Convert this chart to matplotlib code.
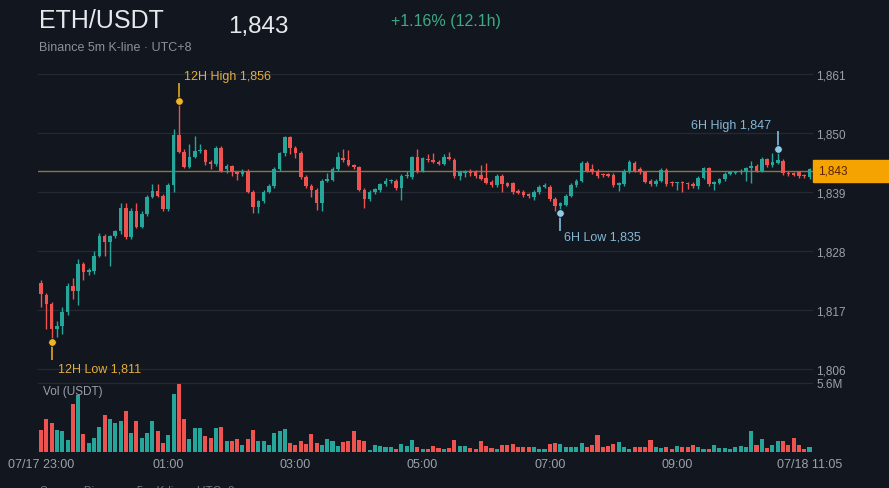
import numpy as np
import pandas as pd
import matplotlib
matplotlib.use("Agg")
import matplotlib.pyplot as plt
from matplotlib.patches import Rectangle
from matplotlib import transforms

plt.rcParams['font.family'] = ['Liberation Sans', 'DejaVu Sans']

# ---- data (ETH/USDT, Binance 5m candles, 07/17 23:00 -> 07/18 11:05, UTC+8) ----
opens = [1822.0, 1819.8, 1818.1, 1813.5, 1814.0, 1816.6, 1821.5, 1820.5, 1825.6, 1824.0,
         1824.3, 1827.1, 1830.8, 1829.7, 1830.8, 1831.7, 1836.0, 1830.6, 1835.5, 1832.5,
         1834.9, 1838.1, 1839.2, 1838.3, 1835.8, 1840.3, 1849.6, 1846.5, 1843.7, 1845.6,
         1846.7, 1846.8, 1844.6, 1844.2, 1847.2, 1843.2, 1843.8, 1842.7, 1842.3, 1843.0,
         1839.0, 1836.2, 1837.3, 1839.0, 1840.1, 1843.3, 1846.2, 1849.2, 1847.2, 1846.3,
         1841.8, 1840.1, 1839.4, 1837.0, 1841.1, 1841.2, 1843.3, 1845.3, 1844.9, 1844.0,
         1843.6, 1839.4, 1837.7, 1839.0, 1839.3, 1840.4, 1841.0, 1841.1, 1839.7, 1842.0,
         1841.8, 1845.5, 1843.0, 1845.2, 1844.9, 1844.6, 1844.3, 1845.6, 1845.0, 1842.0,
         1842.5, 1842.8, 1842.8, 1842.1, 1841.7, 1840.9, 1840.3, 1842.0, 1840.6, 1840.6,
         1839.2, 1839.0, 1838.6, 1838.1, 1839.0, 1840.0, 1840.0, 1837.7, 1836.4, 1836.6,
         1838.3, 1840.3, 1841.1, 1844.4, 1843.2, 1842.9, 1842.3, 1842.3, 1842.2, 1840.3,
         1840.4, 1842.9, 1844.5, 1843.3, 1842.7, 1841.1, 1840.5, 1841.1, 1843.1, 1840.7,
         1840.6, 1840.7, 1840.6, 1840.5, 1840.2, 1841.7, 1843.4, 1840.4, 1840.7, 1841.4,
         1842.4, 1842.6, 1842.7, 1843.0, 1843.4, 1843.9, 1843.0, 1845.1, 1844.0, 1844.5,
         1844.8, 1842.6, 1842.5, 1842.7, 1842.1, 1841.8]
highs = [1822.6, 1820.2, 1818.5, 1815.0, 1817.5, 1822.0, 1823.0, 1826.5, 1826.0, 1824.8,
         1828.0, 1831.3, 1831.2, 1831.0, 1832.0, 1837.0, 1837.0, 1836.0, 1837.0, 1835.4,
         1838.5, 1840.5, 1840.5, 1838.6, 1840.6, 1850.8, 1856.0, 1847.0, 1848.0, 1849.4,
         1848.0, 1847.1, 1845.0, 1847.6, 1847.6, 1844.2, 1844.0, 1843.0, 1843.3, 1843.3,
         1839.3, 1837.6, 1839.3, 1840.5, 1843.6, 1846.5, 1849.4, 1849.5, 1847.5, 1846.6,
         1842.2, 1840.4, 1839.7, 1841.4, 1842.5, 1843.6, 1846.5, 1847.0, 1846.8, 1844.3,
         1843.9, 1839.7, 1839.3, 1839.8, 1840.7, 1841.6, 1841.4, 1841.4, 1842.3, 1843.0,
         1845.8, 1847.0, 1845.6, 1846.0, 1846.3, 1845.0, 1846.0, 1846.5, 1845.3, 1843.0,
         1843.1, 1843.2, 1843.1, 1844.0, 1844.5, 1841.2, 1842.4, 1842.3, 1840.9, 1840.9,
         1839.5, 1839.3, 1838.9, 1839.3, 1840.3, 1840.6, 1840.3, 1838.0, 1837.2, 1838.6,
         1840.6, 1841.4, 1844.7, 1844.7, 1844.2, 1843.2, 1842.6, 1842.6, 1842.5, 1840.9,
         1843.2, 1844.9, 1844.8, 1843.6, 1843.0, 1841.4, 1841.4, 1843.4, 1843.4, 1841.0,
         1840.9, 1841.0, 1840.9, 1840.8, 1842.0, 1843.7, 1843.7, 1841.1, 1841.7, 1842.7,
         1843.0, 1843.0, 1843.2, 1843.7, 1844.8, 1844.2, 1845.5, 1845.4, 1846.2, 1847.0,
         1845.1, 1842.9, 1842.8, 1843.0, 1842.4, 1843.5]
lows = [1817.5, 1813.5, 1811.0, 1812.0, 1812.5, 1816.0, 1819.0, 1818.0, 1822.5, 1823.5,
        1823.8, 1826.8, 1827.0, 1825.2, 1830.4, 1831.2, 1830.2, 1830.3, 1832.2, 1832.2,
        1834.6, 1837.8, 1838.0, 1835.4, 1835.5, 1839.0, 1846.2, 1843.4, 1843.4, 1845.3,
        1846.3, 1844.0, 1843.3, 1843.8, 1842.8, 1842.5, 1842.0, 1841.3, 1842.0, 1838.8,
        1835.0, 1835.0, 1837.0, 1838.8, 1839.8, 1843.0, 1845.8, 1846.0, 1845.3, 1841.5,
        1839.8, 1838.0, 1835.6, 1835.5, 1840.8, 1841.0, 1843.0, 1844.6, 1843.8, 1843.3,
        1839.2, 1836.0, 1837.4, 1838.6, 1839.0, 1840.1, 1840.7, 1839.4, 1837.5, 1841.7,
        1841.5, 1842.6, 1842.7, 1844.6, 1844.5, 1844.0, 1844.0, 1845.0, 1841.7, 1841.3,
        1841.8, 1842.0, 1841.7, 1841.2, 1840.4, 1840.0, 1840.0, 1839.0, 1839.9, 1838.7,
        1838.6, 1838.1, 1837.9, 1837.6, 1838.7, 1839.7, 1837.4, 1835.5, 1835.0, 1836.3,
        1838.0, 1840.0, 1840.8, 1842.7, 1842.4, 1841.7, 1841.8, 1841.8, 1840.0, 1839.2,
        1840.1, 1842.6, 1842.7, 1842.4, 1840.6, 1840.2, 1840.2, 1840.8, 1840.2, 1840.2,
        1839.3, 1839.0, 1839.6, 1839.8, 1839.5, 1841.4, 1840.1, 1839.4, 1840.4, 1841.1,
        1842.1, 1842.3, 1842.4, 1841.0, 1840.6, 1842.7, 1842.7, 1843.7, 1843.7, 1844.2,
        1842.2, 1842.0, 1841.9, 1841.7, 1841.6, 1841.5]
closes = [1820.0, 1818.1, 1813.5, 1814.0, 1816.6, 1821.5, 1820.5, 1825.6, 1824.0, 1824.5,
          1827.1, 1830.8, 1829.7, 1830.8, 1831.7, 1836.0, 1830.6, 1835.5, 1832.5, 1834.9,
          1838.1, 1839.2, 1838.3, 1835.8, 1840.3, 1849.6, 1846.5, 1843.7, 1845.6, 1846.7,
          1846.9, 1844.6, 1844.2, 1847.2, 1843.0, 1843.8, 1842.7, 1842.3, 1843.0, 1839.0,
          1836.2, 1837.3, 1839.0, 1840.1, 1843.3, 1846.2, 1849.2, 1847.2, 1846.3, 1841.8,
          1840.1, 1839.4, 1837.0, 1841.1, 1841.4, 1843.3, 1845.5, 1844.9, 1844.0, 1843.6,
          1839.4, 1837.7, 1839.0, 1839.5, 1840.4, 1841.0, 1841.1, 1839.7, 1842.0, 1842.2,
          1845.5, 1842.9, 1845.3, 1844.9, 1844.6, 1844.3, 1845.6, 1845.1, 1842.0, 1842.7,
          1842.8, 1842.6, 1842.0, 1841.5, 1840.7, 1840.3, 1842.0, 1840.5, 1840.2, 1839.0,
          1838.9, 1838.4, 1838.2, 1839.0, 1840.0, 1840.2, 1837.7, 1836.4, 1836.9, 1838.3,
          1840.3, 1841.1, 1844.4, 1843.0, 1842.7, 1842.0, 1842.1, 1842.0, 1840.3, 1840.6,
          1842.9, 1844.6, 1843.0, 1842.7, 1840.9, 1840.5, 1841.1, 1843.1, 1840.5, 1840.6,
          1840.7, 1840.6, 1840.5, 1840.1, 1841.7, 1843.4, 1840.4, 1840.8, 1841.4, 1842.4,
          1842.7, 1842.8, 1843.0, 1843.4, 1843.9, 1843.0, 1845.2, 1844.0, 1844.6, 1844.9,
          1842.5, 1842.3, 1842.2, 1842.0, 1841.9, 1843.2]
# volume in millions USDT
volumes = [1.79, 2.68, 2.35, 1.79, 1.71, 0.97, 3.90, 4.63, 1.46, 0.73,
           1.14, 2.03, 3.00, 2.68, 2.35, 2.52, 3.33, 1.54, 2.52, 1.14,
           1.54, 2.52, 1.71, 0.73, 1.38, 4.71, 5.52, 2.68, 1.06, 1.95,
           1.95, 1.30, 1.14, 1.95, 2.03, 0.89, 0.89, 1.06, 0.57, 1.06,
           1.79, 0.89, 0.89, 0.57, 1.54, 1.71, 1.87, 0.73, 0.57, 0.89,
           0.65, 1.46, 0.73, 0.57, 1.06, 0.89, 0.49, 0.81, 0.89, 1.71,
           0.97, 0.89, 0.16, 0.57, 0.49, 0.41, 0.41, 0.24, 0.65, 0.49,
           0.97, 0.41, 0.24, 0.24, 0.49, 0.32, 0.24, 0.32, 0.97, 0.49,
           0.49, 0.32, 0.24, 0.89, 0.49, 0.32, 0.24, 0.57, 0.57, 0.65,
           0.41, 0.41, 0.41, 0.41, 0.24, 0.24, 0.65, 0.73, 0.65, 0.41,
           0.41, 0.41, 0.73, 0.41, 0.57, 1.38, 0.41, 0.49, 0.65, 0.81,
           0.41, 0.24, 0.41, 0.41, 0.41, 0.97, 0.41, 0.32, 0.41, 0.24,
           0.49, 0.41, 0.41, 0.57, 0.41, 0.24, 0.24, 0.57, 0.32, 0.32,
           0.24, 0.41, 0.49, 0.41, 1.71, 0.57, 1.06, 0.32, 0.57, 0.89,
           0.89, 0.57, 1.14, 0.57, 0.24, 0.41]

current_price = 1843
change_text = "+1.16% (12.1h)"
price_ticks = [1806, 1817, 1828, 1839, 1850, 1861]
time_ticks = ["2023-07-17 23:00", "2023-07-18 01:00", "2023-07-18 03:00", "2023-07-18 05:00",
              "2023-07-18 07:00", "2023-07-18 09:00", "2023-07-18 11:05"]
time_labels = ["07/17 23:00", "01:00", "03:00", "05:00", "07:00", "09:00", "07/18 11:05"]
vol_max_label = 5.6
# (label, price, kind) - 12H over the whole window, 6H over the last 72 candles
marks = [("12H High", 1856, "hi12"), ("12H Low", 1811, "lo12"),
         ("6H High", 1847, "hi6"), ("6H Low", 1835, "lo6")]

# ---- colours ----
BG = '#12161f'
UP = '#26a69a'
DOWN = '#ef5350'
GRID = '#242935'
TICK = '#9aa1ab'
GOLD = '#f0b428'
GOLD_TXT = '#e3ad3c'
BLUE = '#8ecbea'
BLUE_TXT = '#86b8d6'

o = np.array(opens); h = np.array(highs); l = np.array(lows); c = np.array(closes)
v = np.array(volumes)
times = pd.date_range("2023-07-17 23:00", periods=len(c), freq="5min")
x = np.arange(len(c))
up = c >= o
cols = np.where(up, UP, DOWN)

W, H = 889, 489
fig = plt.figure(figsize=(W / 100, H / 100), dpi=100, facecolor=BG)

def fx(px):
    return px / W

def fy(py):
    return 1 - py / H

# price panel: pixel rows 60..374, columns 38..813
ax = fig.add_axes([fx(38), fy(374), fx(775), 314 / H], facecolor=BG)
axv = fig.add_axes([fx(38), fy(453), fx(775), 73 / H], facecolor=BG, sharex=ax)

ax.set_xlim(-0.57, 145.66)
ax.set_ylim(1805.25, 1863.8)
for p in price_ticks:
    ax.axhline(p, color=GRID, lw=0.9, zorder=0)

ax.vlines(x, l, h, colors=cols, lw=1.0, zorder=2)
body = np.maximum(np.abs(c - o), 0.22)
ax.bar(x, body, bottom=np.minimum(o, c), width=0.68, color=cols, zorder=3, linewidth=0)

# current price line + tag
ax.axhline(current_price, color='#8a7743', lw=1.0, zorder=1)
blend = transforms.blended_transform_factory(ax.transAxes, ax.transData)
tag_h = 22 / 5.363
ax.add_patch(Rectangle((1.0, current_price - tag_h / 2), 0.2, tag_h, transform=blend,
                       color='#f5a300', clip_on=False, zorder=5))
ax.text(1.0065, current_price, f"{current_price:,}", transform=blend, color='#5b2200',
        fontsize=8.5, va='center', ha='left', zorder=6, clip_on=False)

# high / low markers
last6 = len(c) - 72
for name, price, kind in marks:
    if kind == 'hi12':
        i = int(np.argmax(h))
    elif kind == 'lo12':
        i = int(np.argmin(l))
    elif kind == 'hi6':
        i = last6 + int(np.argmax(h[last6:]))
    else:
        i = last6 + int(np.argmin(l[last6:]))
    col = GOLD if '12' in kind else BLUE
    tcol = GOLD_TXT if '12' in kind else BLUE_TXT
    stick = 3.3
    if 'hi' in kind:
        ax.vlines(i, price, price + stick, colors=col, lw=1.1, zorder=4, clip_on=False)
    else:
        ax.vlines(i, price - stick, price, colors=col, lw=1.1, zorder=4, clip_on=False)
    ax.plot(i, price, 'o', color=col, ms=5.5, mec=BG, mew=0.6, zorder=6, clip_on=False)
    label = f"{name} {price:,}"
    if kind == 'hi12':
        ax.annotate(label, (i, price), xytext=(5, 25), textcoords='offset pixels',
                    color=tcol, fontsize=9, va='center', ha='left', annotation_clip=False)
    elif kind == 'lo12':
        ax.annotate(label, (i, price), xytext=(6, -26), textcoords='offset pixels',
                    color=tcol, fontsize=9, va='center', ha='left', annotation_clip=False)
    elif kind == 'hi6':
        ax.annotate(label, (i, price), xytext=(-7, 24), textcoords='offset pixels',
                    color=tcol, fontsize=9, va='center', ha='right', annotation_clip=False)
    else:
        ax.annotate(label, (i, price), xytext=(4, -23), textcoords='offset pixels',
                    color=tcol, fontsize=9, va='center', ha='left', annotation_clip=False)

ax.yaxis.tick_right()
ax.set_yticks(price_ticks)
ax.set_yticklabels([f"{p:,}" for p in price_ticks])
ax.tick_params(axis='y', length=0, pad=2.5, labelsize=8.5, labelcolor=TICK)
ax.tick_params(axis='x', length=0, labelbottom=False)
for s in ax.spines.values():
    s.set_visible(False)

# volume panel
axv.bar(x, v, width=0.76, color=cols, linewidth=0, zorder=2)
axv.set_ylim(0, vol_max_label * 73 / 69)
axv.axhline(vol_max_label, color=GRID, lw=0.9, zorder=0)
axv.yaxis.tick_right()
axv.set_yticks([vol_max_label])
axv.set_yticklabels([f"{vol_max_label}M"])
axv.tick_params(axis='y', length=0, pad=2.5, labelsize=8.5, labelcolor=TICK)
tick_pos = [times.get_loc(pd.Timestamp(t)) for t in time_ticks]
axv.set_xticks(tick_pos)
axv.set_xticklabels(time_labels)
axv.tick_params(axis='x', length=0, pad=4, labelsize=9, labelcolor=TICK)
for s in axv.spines.values():
    s.set_visible(False)
axv.text(fx(43), fy(392), "Vol (USDT)", transform=fig.transFigure, color=TICK,
         fontsize=8.5, va='center', ha='left')

# header
fig.text(fx(39), fy(28), "ETH/USDT", color='#e6e8eb', fontsize=18, va='baseline')
fig.text(fx(228), fy(33), f"{current_price:,}", color='#e6e8eb', fontsize=17.5, va='baseline')
fig.text(fx(391), fy(26), change_text, color='#3dab84', fontsize=11.5, va='baseline')
fig.text(fx(39), fy(51), "Binance 5m K-line \u00b7 UTC+8", color='#8a9099', fontsize=9,
         va='baseline')
# footer line, cut by the lower edge as in the reference screenshot
fig.text(fx(40), fy(486), "Source: Binance \u00b7 5m K-line \u00b7 UTC+8", color='#6f7680',
         fontsize=8.5, va='top')

fig.savefig("out.png", dpi=100, facecolor=BG)
